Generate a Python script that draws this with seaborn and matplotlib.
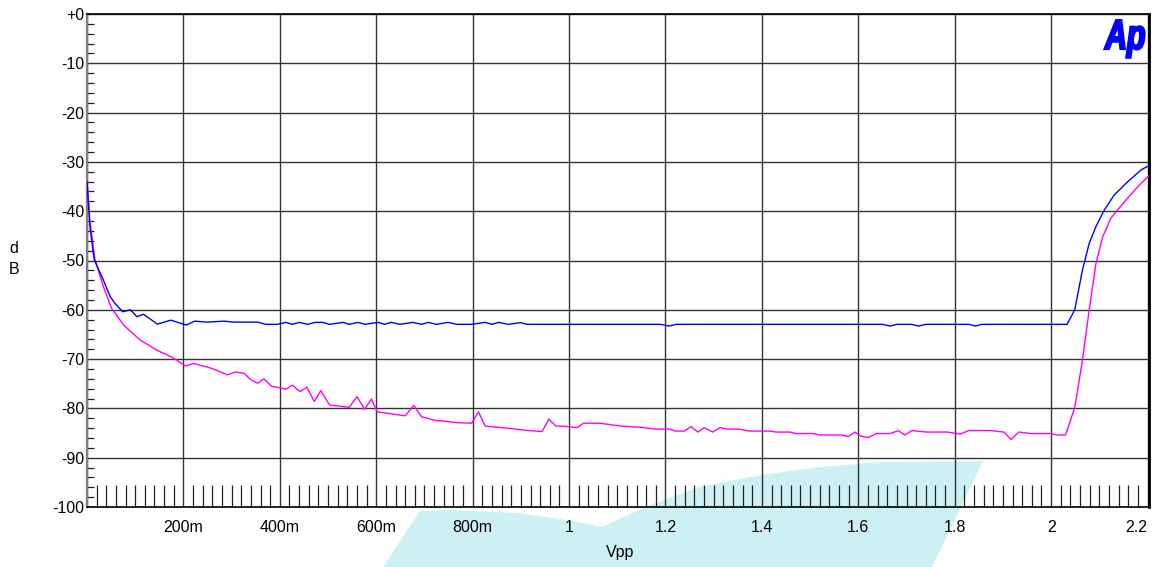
import matplotlib
matplotlib.use("Agg")
import matplotlib.pyplot as plt
import seaborn as sns
import pandas as pd
from matplotlib.ticker import MultipleLocator, FuncFormatter
from matplotlib.patches import Polygon, PathPatch
from matplotlib.textpath import TextPath
from matplotlib.font_manager import FontProperties
from matplotlib.transforms import Affine2D

# blue trace (Vpp, dB)
blue_x = [0.0, 0.006, 0.0146, 0.034, 0.048, 0.058, 0.074, 0.090, 0.1035, 0.117,
          0.146, 0.174, 0.206, 0.223, 0.249, 0.284, 0.305, 0.354, 0.371, 0.395,
          0.4125, 0.426, 0.44, 0.458, 0.473, 0.489, 0.503, 0.531, 0.544, 0.562,
          0.576, 0.604, 0.617, 0.631, 0.649, 0.676, 0.694, 0.708, 0.725, 0.749,
          0.767, 0.798, 0.826, 0.84, 0.854, 0.874, 0.899, 0.9125, 1.19, 1.208,
          1.222, 1.65, 1.666, 1.68, 1.71, 1.725, 1.74, 1.83, 1.843, 1.856,
          2.033, 2.049, 2.065, 2.079, 2.093, 2.110, 2.131, 2.159, 2.187, 2.211]
blue_y = [-34.0, -43.0, -49.7, -54.0, -57.3, -58.7, -60.4, -60.0, -61.4, -60.9,
          -62.9, -62.1, -63.1, -62.3, -62.5, -62.3, -62.5, -62.5, -62.95, -62.95,
          -62.55, -62.95, -62.55, -62.95, -62.55, -62.55, -62.95, -62.55, -62.95, -62.55,
          -62.95, -62.55, -62.95, -62.55, -62.95, -62.55, -62.95, -62.55, -62.95, -62.55,
          -62.95, -62.95, -62.55, -62.95, -62.55, -62.95, -62.6, -62.95, -62.95, -63.3,
          -62.95, -62.95, -63.3, -62.95, -62.95, -63.3, -62.95, -62.95, -63.3, -62.95,
          -62.95, -60.0, -51.9, -46.5, -43.1, -39.8, -36.7, -34.0, -31.6, -30.3]

# magenta trace (Vpp, dB)
mag_x = [0.0, 0.006, 0.0167, 0.034, 0.051, 0.076, 0.110, 0.145, 0.176, 0.204,
         0.221, 0.253, 0.27, 0.291, 0.308, 0.326, 0.34, 0.354, 0.367, 0.383,
         0.4125, 0.426, 0.442, 0.456, 0.4715, 0.485, 0.503, 0.52, 0.544, 0.56,
         0.576, 0.59, 0.602, 0.631, 0.66, 0.678, 0.694, 0.721, 0.77, 0.798,
         0.812, 0.826, 0.871, 0.916, 0.944, 0.958, 0.973, 0.989, 1.017, 1.03,
         1.062, 1.11, 1.145, 1.18, 1.208, 1.221, 1.239, 1.253, 1.267, 1.28,
         1.298, 1.313, 1.329, 1.353, 1.374, 1.416, 1.43, 1.458, 1.471, 1.506,
         1.52, 1.565, 1.579, 1.593, 1.607, 1.621, 1.638, 1.666, 1.683, 1.697,
         1.711, 1.742, 1.784, 1.812, 1.829, 1.874, 1.902, 1.917, 1.933, 1.958,
         1.999, 2.013, 2.03, 2.049, 2.065, 2.079, 2.093, 2.107, 2.124, 2.152,
         2.18, 2.211]
mag_y = [-33.7, -42.0, -49.9, -55.3, -59.7, -63.1, -66.1, -68.2, -69.6, -71.4,
         -70.9, -71.7, -72.3, -73.2, -72.6, -72.9, -74.2, -74.9, -74.0, -75.5,
         -76.1, -75.3, -76.6, -75.7, -78.6, -76.4, -79.3, -79.5, -79.8, -77.6,
         -80.2, -78.1, -80.7, -81.1, -81.5, -79.4, -81.7, -82.4, -82.9, -83.0,
         -80.7, -83.6, -84.0, -84.5, -84.7, -82.2, -83.6, -83.6, -83.9, -83.0,
         -83.0, -83.6, -83.8, -84.2, -84.2, -84.6, -84.6, -83.7, -84.8, -83.9,
         -84.8, -83.9, -84.2, -84.2, -84.6, -84.6, -84.8, -84.8, -85.1, -85.1,
         -85.4, -85.4, -85.7, -84.8, -85.7, -85.9, -85.1, -85.1, -84.5, -85.4,
         -84.5, -84.8, -84.8, -85.2, -84.5, -84.5, -84.8, -86.3, -84.8, -85.1,
         -85.1, -85.4, -85.4, -79.8, -70.2, -60.0, -50.6, -45.2, -41.4, -38.1,
         -35.0, -32.0]

sns.set_style("white")
plt.rcParams['font.family'] = ['Liberation Sans', 'DejaVu Sans']
plt.rcParams['text.color'] = 'black'

W, H = 1154, 567
fig = plt.figure(figsize=(W / 100, H / 100), dpi=100)
ax = fig.add_axes([87 / W, 1 - 507 / H, (1149 - 87) / W, (507 - 14) / H])
ax.set_facecolor('none')

# light watermark shape behind the plot
wm = [(383, 567), (420, 511), (450, 510), (517, 513), (567, 520), (602, 527),
      (650, 505), (700, 487), (760, 475), (820, 467), (880, 462), (983, 461), (932, 567)]
fig.patches.append(Polygon([(x / W, 1 - y / H) for x, y in wm], closed=True,
                           transform=fig.transFigure, facecolor='#cdf0f5',
                           edgecolor='none', zorder=-1))

blue = pd.DataFrame({'Vpp': blue_x, 'dB': blue_y})
mag = pd.DataFrame({'Vpp': mag_x, 'dB': mag_y})
sns.lineplot(data=blue, x='Vpp', y='dB', sort=False, estimator=None,
             color='#0000ff', lw=1.0, ax=ax, zorder=4)
sns.lineplot(data=mag, x='Vpp', y='dB', sort=False, estimator=None,
             color='#ff00ff', lw=1.0, ax=ax, zorder=3)

ax.set_xlim(0, 2.203)
ax.set_ylim(-100, 0)

ax.xaxis.set_major_locator(MultipleLocator(0.2))
ax.xaxis.set_minor_locator(MultipleLocator(0.02))
ax.yaxis.set_major_locator(MultipleLocator(10))
ax.yaxis.set_minor_locator(MultipleLocator(2))


def xfmt(v, pos):
    v = round(v, 3)
    if v < 0.1:
        return ''
    if v < 0.99:
        return f"{int(round(v * 1000))}m"
    return f"{v:g}"


def yfmt(v, pos):
    return '+0' if abs(v) < 1e-6 else f"{int(round(v))}"


ax.xaxis.set_major_formatter(FuncFormatter(xfmt))
ax.yaxis.set_major_formatter(FuncFormatter(yfmt))

ax.tick_params(axis='x', which='major', length=0, pad=9, labelsize=11.5, labelcolor='black')
ax.tick_params(axis='x', which='minor', direction='in', length=16, width=0.9,
               color='#222222', bottom=True, top=False)
ax.tick_params(axis='y', which='major', length=0, pad=2, labelsize=11.5, labelcolor='black')
ax.tick_params(axis='y', which='minor', direction='in', length=5, width=0.9,
               color='#222222', left=True, right=False)

ax.grid(True, which='major', axis='both', color='#333333', lw=1.0)
ax.set_axisbelow(True)

for side, col, w in [('left', '#808080', 1.6), ('top', 'black', 1.2),
                     ('right', 'black', 2.0), ('bottom', 'black', 1.2)]:
    ax.spines[side].set_visible(True)
    ax.spines[side].set_color(col)
    ax.spines[side].set_linewidth(w)

ax.set_xlabel('')
ax.set_ylabel('')
fig.text(620 / W, 1 - 553 / H, 'Vpp', ha='center', va='center', fontsize=11.5)
fig.text(14 / W, 1 - 259 / H, 'd\nB', ha='center', va='center', fontsize=11.5,
         linespacing=1.5)

# keep the last x label inside the figure
fig.canvas.draw()
for t in ax.xaxis.get_major_ticks():
    if abs(t.get_loc() - 2.2) < 1e-6:
        t.label1.set_horizontalalignment('right')
        t.label1.set_x(2.203)

# condensed heavy italic "Ap" logo in the corner (pixel coordinates)
fp = FontProperties(family='Liberation Sans', weight='bold', style='italic')
tp = TextPath((0, 0), 'Ap', size=42, prop=fp)
ext = tp.get_extents()
sx = 40 / ext.width
logo_tf = Affine2D().translate(-ext.x0, 0).scale(sx, 1.0).translate(1104.5, H - 49)
fig.patches.append(PathPatch(logo_tf.transform_path(tp), facecolor='#0000ff',
                             edgecolor='#0000ff', lw=1.6, joinstyle='miter',
                             transform=None, zorder=5))

fig.savefig('out.png', dpi=100)
